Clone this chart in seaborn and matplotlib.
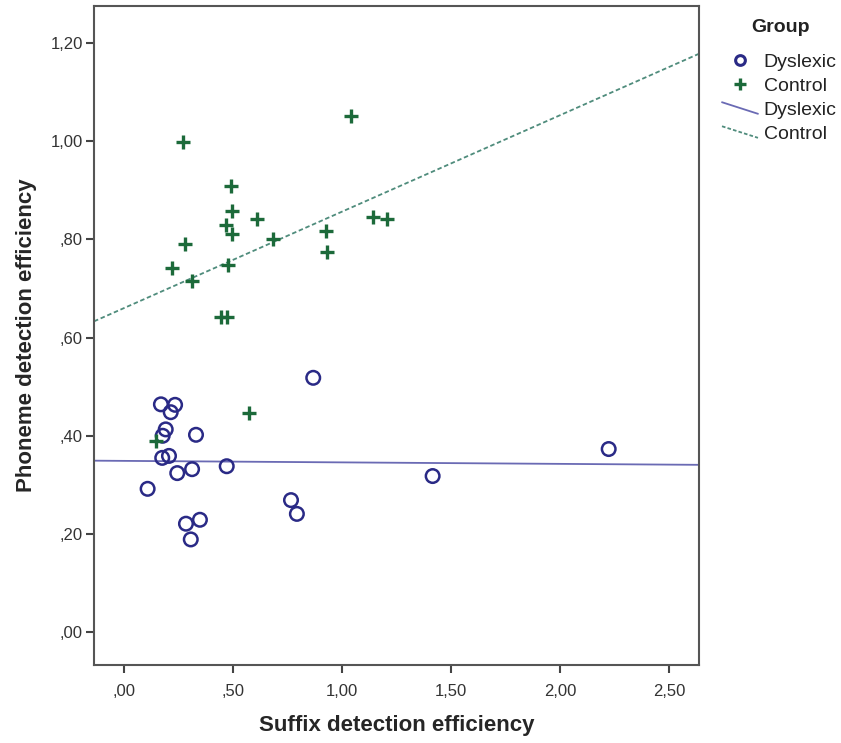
import numpy as np
import pandas as pd
import matplotlib
matplotlib.use('Agg')
import matplotlib.pyplot as plt
import seaborn as sns
from matplotlib.lines import Line2D
from matplotlib.legend_handler import HandlerLine2D
from matplotlib.ticker import FuncFormatter

# values
dys_suffix = [0.867, 0.168, 0.233, 0.213, 0.190, 0.176, 0.329, 0.174, 0.205, 0.243,
              0.311, 0.470, 0.107, 0.765, 0.792, 0.283, 0.347, 0.305, 2.223, 1.415]
dys_phoneme = [0.518, 0.464, 0.463, 0.448, 0.413, 0.400, 0.402, 0.355, 0.359, 0.324,
               0.332, 0.338, 0.292, 0.269, 0.241, 0.221, 0.229, 0.189, 0.373, 0.318]
ctl_suffix = [1.040, 0.271, 0.488, 0.494, 0.467, 0.493, 0.610, 0.681, 0.924, 0.931,
              1.142, 1.205, 0.278, 0.217, 0.309, 0.477, 0.442, 0.472, 0.573, 0.145]
ctl_phoneme = [1.051, 0.999, 0.909, 0.858, 0.829, 0.811, 0.841, 0.801, 0.817, 0.775,
               0.846, 0.841, 0.790, 0.741, 0.716, 0.747, 0.642, 0.642, 0.447, 0.389]
x_ticks = [0.0, 0.5, 1.0, 1.5, 2.0, 2.5]
y_ticks = [0.0, 0.2, 0.4, 0.6, 0.8, 1.0, 1.2]

def spss_fmt(v, pos=None):
    # comma decimals, no leading zero, like SPSS output
    s = '%.2f' % v
    s = s.replace('.', ',')
    if s.startswith('0,'):
        s = s[1:]
    return s

class DiagonalLine(HandlerLine2D):
    # SPSS draws the fit-line legend keys as a short slanted stroke
    def create_artists(self, legend, orig, xdescent, ydescent, width, height, fontsize, trans):
        line = Line2D([-xdescent, width - xdescent], [height * 0.95 - ydescent, -ydescent + height * 0.1])
        self.update_prop(line, orig, legend)
        line.set_transform(trans)
        return [line]

dys = pd.DataFrame({'suffix': dys_suffix, 'phoneme': dys_phoneme})
ctl = pd.DataFrame({'suffix': ctl_suffix, 'phoneme': ctl_phoneme})

dys_col = '#2a2a86'
dys_line = '#6a6ab4'
ctl_col = '#1c6a3a'
ctl_line = '#4f8c7c'

sns.set_style('white')
plt.rcParams['font.family'] = ['Arial', 'Liberation Sans', 'DejaVu Sans']

fig = plt.figure(figsize=(8.41, 7.43), dpi=100)
ax = fig.add_axes([0.1118, 0.105, 0.7195, 0.887])
ax.set_xlim(-0.139, 2.638)
ax.set_ylim(-0.0666, 1.275)

sns.regplot(data=dys, x='suffix', y='phoneme', scatter=False, ci=None, truncate=False,
            color=dys_line, line_kws={'lw': 1.3, 'ls': '-'}, ax=ax)
sns.regplot(data=ctl, x='suffix', y='phoneme', scatter=False, ci=None, truncate=False,
            color=ctl_line, line_kws={'lw': 1.3, 'ls': (0, (2.5, 1.5))}, ax=ax)

sns.scatterplot(data=dys, x='suffix', y='phoneme', ax=ax, marker='o', s=95,
                facecolor='none', edgecolor=dys_col, linewidth=1.8, zorder=3)
sns.scatterplot(data=ctl, x='suffix', y='phoneme', ax=ax, marker='+', s=90,
                color=ctl_col, linewidth=2.4, zorder=3)

ax.set_xlim(-0.139, 2.638)
ax.set_ylim(-0.0666, 1.275)
ax.set_xticks(x_ticks)
ax.set_yticks(y_ticks)
ax.xaxis.set_major_formatter(FuncFormatter(spss_fmt))
ax.yaxis.set_major_formatter(FuncFormatter(spss_fmt))
ax.tick_params(axis='both', direction='out', length=6, width=1.5, color='#444444',
               labelsize=12, labelcolor='#333333', bottom=True, left=True)
ax.tick_params(axis='x', pad=8)
ax.tick_params(axis='y', pad=2)
for sp in ax.spines.values():
    sp.set_color('#555555')
    sp.set_linewidth(1.5)

ax.set_xlabel('Suffix detection efficiency', fontsize=16, fontweight='bold', labelpad=11)
ax.set_ylabel('Phoneme detection efficiency', fontsize=16, fontweight='bold', labelpad=10)

handles = [
    Line2D([], [], marker='o', ls='none', markerfacecolor='none', markeredgecolor=dys_col,
           markeredgewidth=2.2, markersize=7),
    Line2D([], [], marker='+', ls='none', color=ctl_col, markeredgewidth=2.4, markersize=8),
    Line2D([], [], color=dys_line, lw=1.3),
    Line2D([], [], color=ctl_line, lw=1.3, ls=(0, (2.0, 1.2))),
]
labels = ['Dyslexic', 'Control', 'Dyslexic', 'Control']
# legend title drawn separately so the gap under it matches the SPSS layout
fig.text(781 / 841, 1 - 27 / 743, 'Group', fontsize=14, fontweight='bold',
         color='#222222', ha='center', va='center')
leg = fig.legend(handles, labels, frameon=False, fontsize=14,
                 loc='upper left', bbox_to_anchor=(0.8585, 0.928), handlelength=1.85,
                 handletextpad=0.3, labelspacing=0.33, borderaxespad=0, borderpad=0,
                 handler_map={handles[2]: DiagonalLine(), handles[3]: DiagonalLine()})
for t in leg.get_texts():
    t.set_color('#222222')

fig.savefig('out.png', dpi=100)
